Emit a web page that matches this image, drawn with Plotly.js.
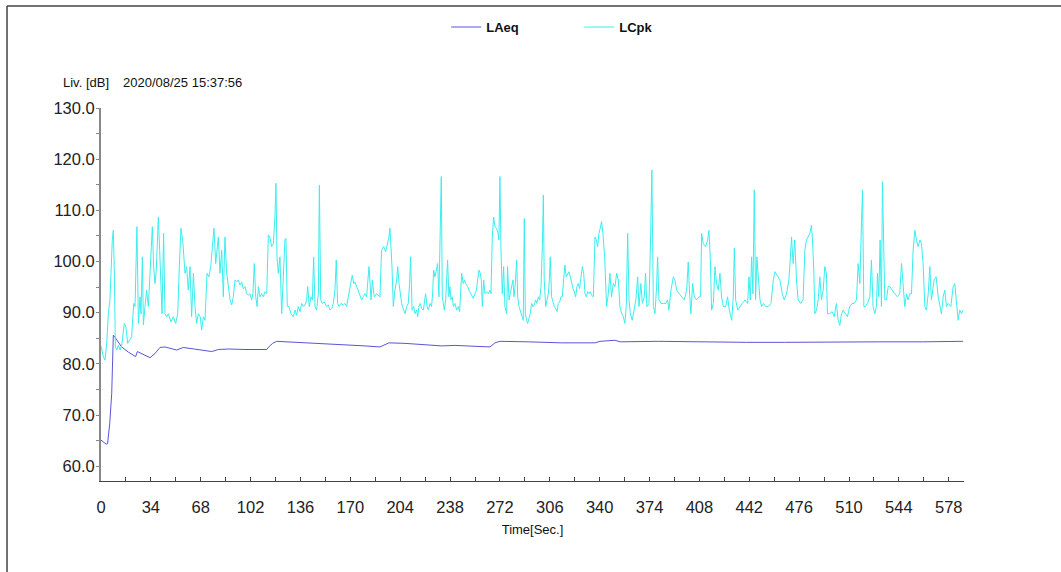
<!DOCTYPE html>
<html>
<head>
<meta charset="utf-8">
<script src="https://cdn.plot.ly/plotly-3.0.1.min.js"></script>
<style>html,body{margin:0;padding:0;background:#fff;}#chart{width:1061px;height:572px;}</style>
</head>
<body>
<div id="chart"></div>
<script>
// LAeq (time in s, level in dB)
const tLAeq = [0,1,3.5,4.5,6,7.3,8.4,9.5,14.1,18.6,23.6,24.8,27.7,33.4,36.8,39.1,40.2,43.6,47,51.6,56.1,61.8,68.6,75.5,80,86.8,98.2,113,114,117,119.8,127.7,149.3,164,180,190.2,196.3,207.3,220.9,232.3,241.3,265.2,268.6,272,291.3,314,336.8,340.2,350.4,354,380,400,420,440,466,500,530,560,587.8];
const laeq  = [65.1,64.9,64.3,64.4,68.5,74.2,85.6,85.2,83.3,82.3,81.4,82.4,82.0,81.2,82.0,82.7,83.2,83.3,83.0,82.7,83.2,83.0,82.7,82.4,82.8,82.9,82.8,82.8,83.2,84.0,84.4,84.3,83.9,83.7,83.5,83.3,84.1,84.0,83.7,83.5,83.6,83.3,84.1,84.4,84.3,84.1,84.1,84.4,84.6,84.3,84.4,84.3,84.3,84.2,84.2,84.3,84.3,84.3,84.4];

// LCpk (time in s, level in dB)
const tLCpk = [0,1.6,2.7,3.9,5,6.1,7.7,8.4,9.1,9.8,10.7,11.8,13,14.1,15.9,17,18.2,19.3,20.9,22.3,23.2,24.5,25.5,26.6,27.3,28.2,28.9,30,31.1,32.3,33.4,34.1,35,35.9,36.8,37.7,39.1,40,40.9,41.6,42.7,43.6,44.8,45.9,47.7,49.3,50.9,52.3,53.4,54.5,55.7,56.6,57.3,58.4,59.5,60.7,61.8,63,64.1,65.2,66.4,67.7,68.6,69.8,70.9,72.3,73.6,74.8,75.7,77,78.2,79.1,80,81.1,82.3,83.4,84.5,85.7,86.8,88,89.1,90.2,91.4,92.5,93.6,94.8,95.9,97,98.2,99.3,100.5,101.6,102.7,103.6,104.5,105.5,106.4,107.3,108.4,109.5,110.7,111.8,113,
114.1,115.2,116.3,117.5,118.6,119.3,120,120.9,122,123.2,124.3,125.4,126.1,127,128.2,129.5,131.1,132.3,133.4,134.5,135.7,136.8,137.9,139.1,140.2,140.9,142,143.2,144.1,145,145.9,147,148.2,148.9,149.8,150.9,152.3,153.8,155,156.1,157.3,158.4,159.5,160.4,161.3,162.3,163.6,165.2,166.3,167.5,168.6,169.8,170.4,171.3,172.3,173.2,174.3,175.4,176.6,177.7,178.8,180,181.1,182,182.7,183.6,184.1,185,186.3,187.9,189.1,190.2,191.3,192.7,194.1,195.4,196.3,197,197.7,198.4,199.3,200.4,201.6,202.3,203.2,204.1,205,206.1,207.3,208.4,209.5,210.4,211.1,212.1,213.2,214.1,215.2,215.9,216.8,217.7,218.6,219.8,220.7,221.3,222.3,223.2,224.3,225.4,226.1,226.8,227.7,228.8,229.5,230.4,231.3,232,232.7,
234.1,235,235.7,236.3,237.2,237.9,238.6,239.5,240.2,241.3,242.5,243.6,244.5,245.9,247,247.9,248.6,250,250.9,251.8,252.7,253.8,255,255.9,256.8,257.7,258.6,259.3,260,260.9,261.8,262.9,264.1,265.2,265.9,266.8,267.7,268.6,269.7,270.7,271.3,272,272.7,273.6,274.5,275.4,276.6,277.2,278.2,279.1,280,280.9,281.6,282.5,283.4,284.1,285,285.9,286.8,287.9,288.6,289.3,290.2,290.9,291.8,292.7,293.6,294.5,295.4,296.3,297.2,298.2,299.1,300,300.9,301.6,302.2,303.2,304.1,305,305.7,306.3,307.2,308.2,309.1,310,310.9,311.8,312.7,313.6,314.5,315.4,316.3,317.2,318.2,319.1,320,320.9,321.8,322.7,323.6,324.5,325.4,326.3,327.2,328.2,329.1,330,330.9,331.8,332.7,333.6,334.5,335.7,336.8,337.7,338.6,339.5,340.4,341.3,342.2,343.4,
344.7,345.9,347,348.1,349.3,350.4,351.6,352.7,353.8,355,356.1,357.2,358.1,359.1,360,360.9,362.2,363.6,364.7,365.9,366.8,368.1,369.1,370.4,371.3,372.2,373.6,374.7,375.6,376.6,377.7,378.8,379.5,380.4,381.8,383.4,385,386.3,387.2,388.6,390.2,391.3,392.5,394.1,395.9,397.7,399.3,400.4,401.3,402.2,403.4,404.5,406.1,407.7,408.8,409.5,410.6,412.2,413.6,414.5,415.4,416.3,417.5,418.6,419.7,420.9,422,423.1,424.3,425.9,427.2,428.4,430,431.1,431.8,432.7,434.1,435.6,437.2,439.1,440.9,441.8,442.7,443.6,444.5,445.4,446.3,447.2,448.1,449.3,450.4,451.6,453.1,455,456.8,458.4,459.5,461.3,462.9,464.5,
465.8,467.4,469,469.9,470.8,471.9,473,474.2,475.3,477.1,478.7,479.9,481,482.1,483.3,484.4,485.1,486,486.7,487.8,489,490.1,491.2,492.4,493.5,494.6,495.3,496.9,498.5,499.9,501.4,502.6,503.7,504.9,506,507.6,508.9,510.5,512.1,513.5,515.1,516.2,517.4,518.5,519.2,520.1,521.2,522.6,524.2,525.3,526.4,527.6,528.7,529.4,530.3,531.2,532.1,532.8,533.5,534.4,535.5,536.7,537.8,539.4,541.2,543,544.6,545.8,546.7,548,549.2,550.3,551.4,552.6,553.7,554.9,556,557.1,558.3,559.4,560.5,561.7,562.8,564,565.1,566.2,568,569.4,570.8,571.9,573,574.2,575.3,576.4,577.6,579.4,581,582.1,583.3,584.4,585.5,586.7,587.8];
const lcpk = [83.5,81.4,80.7,84.0,89.8,92.5,104.2,106.1,97.7,83.3,82.7,83.6,82.7,83.6,87.9,87.2,84.0,84.6,85.3,91.8,91.2,106.8,87.9,93.1,89.8,100.9,87.6,91.2,94.4,91.2,99.0,100.9,106.8,99.0,95.7,98.3,108.7,102.2,95.1,89.8,105.5,89.8,89.2,89.8,88.2,89.2,87.9,89.8,99.0,106.5,104.2,100.9,97.7,99.0,94.4,99.0,89.2,97.7,91.2,87.9,89.8,89.2,86.6,89.2,88.5,97.7,97.0,99.0,102.2,106.5,99.6,102.2,104.8,97.7,102.2,93.1,104.8,97.7,95.1,92.5,91.5,93.1,96.4,96.0,96.4,95.4,96.0,94.7,95.1,93.7,93.4,93.7,92.5,93.7,99.6,93.1,91.2,95.1,93.1,93.7,93.1,94.1,93.7,
105.2,104.8,102.9,103.5,108.7,115.3,100.9,97.7,100.9,89.8,99.0,104.2,104.5,91.2,91.2,89.8,89.2,90.5,89.5,91.2,90.2,91.8,91.2,91.5,92.5,95.1,91.2,93.1,92.5,100.9,91.2,90.5,93.7,114.9,92.5,91.8,92.1,91.2,91.5,90.5,90.8,91.8,94.4,100.3,91.8,91.2,91.8,91.5,91.8,91.2,93.1,95.1,95.7,97.3,95.7,96.0,95.1,94.1,93.1,92.5,93.1,93.7,93.1,95.7,99.0,95.1,92.5,96.4,93.1,93.7,93.4,93.1,102.2,102.9,101.9,103.5,104.8,106.5,102.9,99.0,91.2,94.4,96.4,99.0,95.7,93.1,91.8,90.8,89.8,91.2,91.8,95.7,100.9,90.5,91.2,89.8,90.5,89.2,91.2,91.8,90.8,90.5,93.1,93.7,91.2,90.5,91.8,91.2,93.7,98.3,97.0,99.0,99.6,93.1,104.2,116.6,93.1,
90.5,92.5,95.7,100.3,93.1,95.1,92.5,93.1,91.2,91.8,90.5,91.2,90.2,97.7,95.7,96.4,95.7,95.1,94.4,93.7,93.4,92.8,93.7,94.4,96.4,98.3,97.7,96.4,91.2,96.4,93.7,94.1,93.7,94.4,93.7,104.8,108.7,106.8,106.5,105.5,104.2,116.6,102.2,93.7,99.0,91.2,89.8,99.0,92.5,93.7,95.1,96.4,93.1,95.7,100.3,93.1,91.2,90.2,89.5,88.5,108.4,89.8,88.5,87.9,88.9,89.8,91.8,91.2,91.5,92.5,91.8,93.1,92.5,95.1,102.9,113.0,96.4,91.2,92.5,93.7,96.4,100.9,93.1,91.8,91.2,90.8,90.2,91.8,92.1,93.1,93.1,96.4,99.3,97.0,97.7,98.0,97.0,95.7,94.7,94.1,93.1,95.1,95.7,94.7,96.4,99.0,97.7,93.7,93.1,94.1,93.7,94.1,93.4,93.1,104.8,104.2,102.9,105.5,106.5,107.8,105.5,100.9,
91.2,93.7,97.7,93.1,95.7,95.1,97.7,96.4,91.2,89.8,89.2,87.9,91.2,105.5,92.5,89.8,88.5,91.2,92.5,97.0,91.2,95.7,91.8,93.1,97.7,91.2,91.8,104.2,117.9,91.2,89.8,95.1,100.9,92.5,91.8,91.8,91.8,92.5,90.5,94.4,97.0,96.4,94.4,93.7,93.1,92.5,94.4,99.9,93.7,89.8,95.7,93.1,92.5,93.1,93.1,105.5,103.5,102.9,104.2,106.1,100.9,90.5,91.8,99.0,95.7,94.4,97.7,93.1,91.2,91.2,93.1,90.5,88.5,93.1,102.6,92.5,90.5,91.2,91.8,92.5,91.8,97.0,92.5,100.9,93.7,114.0,92.5,100.9,96.4,92.5,91.2,91.8,91.2,91.2,91.8,96.4,98.0,97.0,96.4,93.7,
92.5,93.7,96.4,100.3,104.8,99.6,104.2,96.4,92.5,91.8,92.5,102.2,104.2,104.8,105.5,107.1,104.2,98.3,89.8,90.5,92.5,97.0,92.5,94.4,99.0,97.7,89.8,89.8,90.2,89.2,91.8,88.5,87.5,89.8,90.5,89.8,89.2,91.2,91.8,91.8,92.5,99.6,95.7,107.4,114.0,91.2,91.2,91.8,93.1,100.3,91.2,89.8,91.2,97.7,93.1,104.2,91.2,115.6,104.2,92.5,92.5,95.1,95.1,94.4,93.7,93.1,93.7,99.6,95.7,91.2,93.7,92.5,93.7,93.7,102.2,106.1,104.2,102.9,104.2,103.5,99.6,91.2,90.5,93.7,99.0,92.5,96.4,97.0,93.1,91.2,89.8,93.1,94.4,91.2,91.8,91.2,95.1,95.7,91.2,88.5,90.5,89.8,90.5];

const yTicks = [60,70,80,90,100,110,120,130];
const yTickText = ["60.0","70.0","80.0","90.0","100.0","110.0","120.0","130.0"];
const xTicks = [0,34,68,102,136,170,204,238,272,306,340,374,408,442,476,510,544,578];

const tickFont = {family:'"Liberation Sans",Arial,sans-serif', size:16.5, color:'#222'};

const traces = [
  {x:tLAeq, y:laeq, name:'LAeq', type:'scatter', mode:'lines', line:{color:'#5a56d6', width:1}},
  {x:tLCpk, y:lcpk, name:'LCpk', type:'scatter', mode:'lines', line:{color:'#3aeeee', width:1}}
];

const layout = {
  width:1061, height:572,
  margin:{l:101, r:97, t:108, b:91},
  paper_bgcolor:'#fff', plot_bgcolor:'#fff',
  showlegend:true,
  legend:{orientation:'h', x:0.400, xanchor:'left', y:1.217, yanchor:'middle',
          font:{family:'"Liberation Sans",Arial,sans-serif', size:13, color:'#111', weight:'bold'},
          entrywidth:88, entrywidthmode:'pixels', bgcolor:'rgba(0,0,0,0)'},
  xaxis:{range:[0,588.4], tickvals:xTicks, ticks:'inside', ticklen:4, tickcolor:'#444',
         minor:{dtick:17, tick0:0, ticks:'inside', ticklen:4, tickcolor:'#444', showgrid:false},
         showline:true, linecolor:'#444', linewidth:1, showgrid:false, zeroline:false,
         tickfont:tickFont, ticklabelstandoff:11, automargin:false,
         title:{text:'Time[Sec.]', font:{family:'"Liberation Sans",Arial,sans-serif', size:13, color:'#111'}, standoff:10}},
  yaxis:{range:[57.1,130], tickvals:yTicks, ticktext:yTickText, ticks:'outside', ticklen:3, tickcolor:'#888',
         minor:{dtick:5, tick0:60, ticks:'outside', ticklen:3, tickcolor:'#888', showgrid:false},
         showline:true, linecolor:'#888', linewidth:2, showgrid:false, zeroline:false,
         tickfont:tickFont, ticklabelstandoff:-2, automargin:false},
  annotations:[
    {text:'Liv. [dB]', xref:'paper', yref:'paper', x:-0.0464, y:1.0697, xanchor:'left', yanchor:'middle', showarrow:false,
     font:{family:'"Liberation Sans",Arial,sans-serif', size:13, color:'#111'}},
    {text:'2020/08/25 15:37:56', xref:'paper', yref:'paper', x:0.0232, y:1.0697, xanchor:'left', yanchor:'middle', showarrow:false,
     font:{family:'"Liberation Sans",Arial,sans-serif', size:13, color:'#111'}}
  ],
  shapes:[
    {type:'line', xref:'paper', yref:'paper', x0:-0.1089, x1:1.15, y0:1.2735, y1:1.2735, line:{color:'#444', width:1.5}},
    {type:'line', xref:'paper', yref:'paper', x0:-0.1089, x1:-0.1089, y0:1.2735, y1:-0.3, line:{color:'#444', width:1.5}}
  ]
};

Plotly.newPlot('chart', traces, layout, {displayModeBar:false, staticPlot:true});
</script>
</body>
</html>
